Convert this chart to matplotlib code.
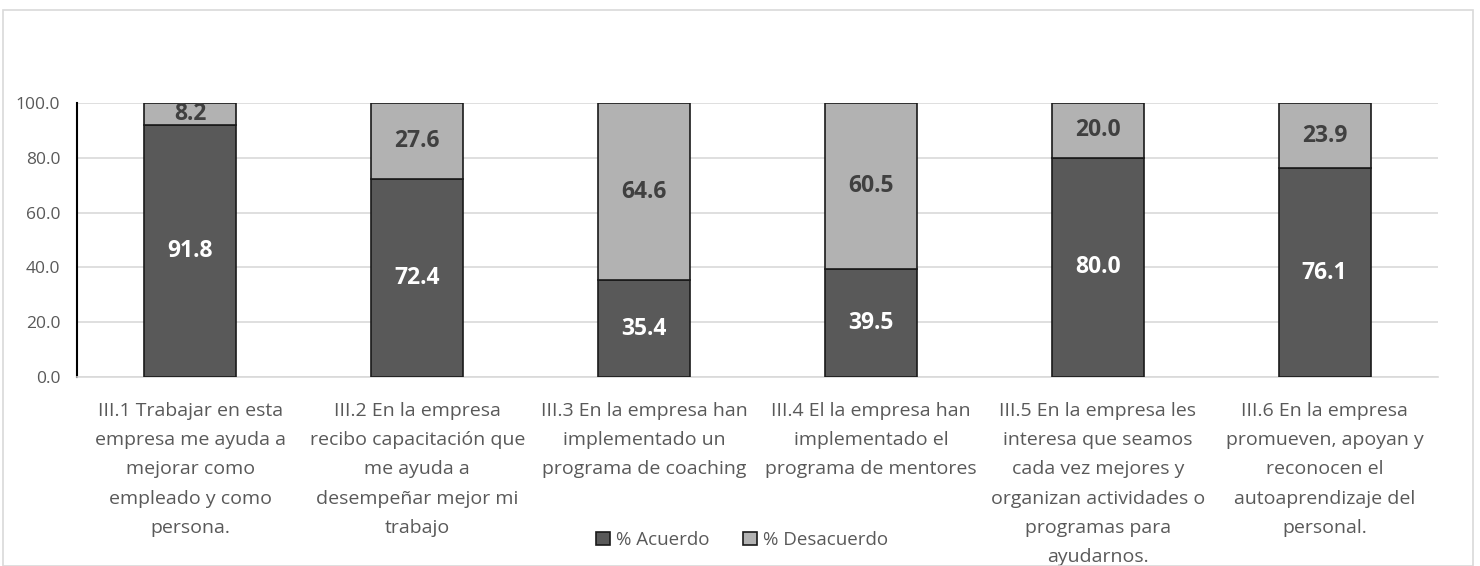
import matplotlib.pyplot as plt
import numpy as np
from matplotlib.patches import Rectangle

categories = [
    "III.1 Trabajar en esta\nempresa me ayuda a\nmejorar como\nempleado y como\npersona.",
    "III.2 En la empresa\nrecibo capacitación que\nme ayuda a\ndesempeñar mejor mi\ntrabajo",
    "III.3 En la empresa han\nimplementado un\nprograma de coaching",
    "III.4 El la empresa han\nimplementado el\nprograma de mentores",
    "III.5 En la empresa les\ninteresa que seamos\ncada vez mejores y\norganizan actividades o\nprogramas para\nayudarnos.",
    "III.6 En la empresa\npromueven, apoyan y\nreconocen el\nautoaprendizaje del\npersonal.",
]
acuerdo = [91.8, 72.4, 35.4, 39.5, 80.0, 76.1]
desacuerdo = [8.2, 27.6, 64.6, 60.5, 20.0, 23.9]
series_names = ["% Acuerdo", "% Desacuerdo"]
yticks = [0, 20, 40, 60, 80, 100]

plt.rcParams['font.family'] = ['Open Sans', 'DejaVu Sans']

fig = plt.figure(figsize=(14.8, 5.66), dpi=100)
ax = fig.add_axes([77 / 1480, 1 - 377 / 566, (1438 - 77) / 1480, (377 - 103) / 566])

# light border around the chart area, like the Excel chart frame
fig.patches.append(Rectangle((3 / 1480, 0), 1470 / 1480, 1 - 10 / 566,
                             transform=fig.transFigure, fill=False,
                             edgecolor='#d9d9d9', linewidth=1.2))

x = np.arange(len(categories))
w = 0.405
dark = '#595959'
light = '#b2b2b2'
b1 = ax.bar(x, acuerdo, w, color=dark, edgecolor='#1a1a1a', linewidth=1.2,
            label=series_names[0], zorder=3)
b2 = ax.bar(x, desacuerdo, w, bottom=acuerdo, color=light, edgecolor='#1a1a1a',
            linewidth=1.2, label=series_names[1], zorder=3)

for xi, a, d in zip(x, acuerdo, desacuerdo):
    ax.text(xi, a / 2, f"{a:.1f}", ha='center', va='center', color='white',
            fontsize=16.5, fontweight='bold', zorder=4)
    ax.text(xi, a + d / 2, f"{d:.1f}", ha='center', va='center', color='#404040',
            fontsize=16.5, fontweight='bold', zorder=4)

ax.set_xlim(-0.5, len(categories) - 0.5)
ax.set_ylim(0, 100)
ax.set_yticks(yticks)
ax.set_yticklabels([f"{v:.1f}" for v in yticks])
ax.set_xticks(x)
ax.set_xticklabels(categories, fontsize=14, color='#595959', linespacing=1.8)
ax.tick_params(axis='y', length=0, pad=12, labelsize=12.5, labelcolor='#595959')
ax.tick_params(axis='x', length=0, pad=18)
ax.grid(axis='y', color='#d9d9d9', linewidth=1.2, zorder=0)
for s in ['top', 'right']:
    ax.spines[s].set_visible(False)
ax.spines['bottom'].set_color('#d9d9d9')
ax.spines['bottom'].set_linewidth(1.2)
ax.spines['left'].set_color('black')
ax.spines['left'].set_linewidth(1.5)

fig.legend(handles=[b1, b2], labels=series_names, loc='center',
           bbox_to_anchor=(742 / 1480, 1 - 540 / 566), ncol=2, frameon=False,
           fontsize=13.5, handlelength=0.75, handleheight=0.75, handletextpad=0.3,
           columnspacing=1.8, labelcolor='#595959')

fig.savefig('out.png', dpi=100)
